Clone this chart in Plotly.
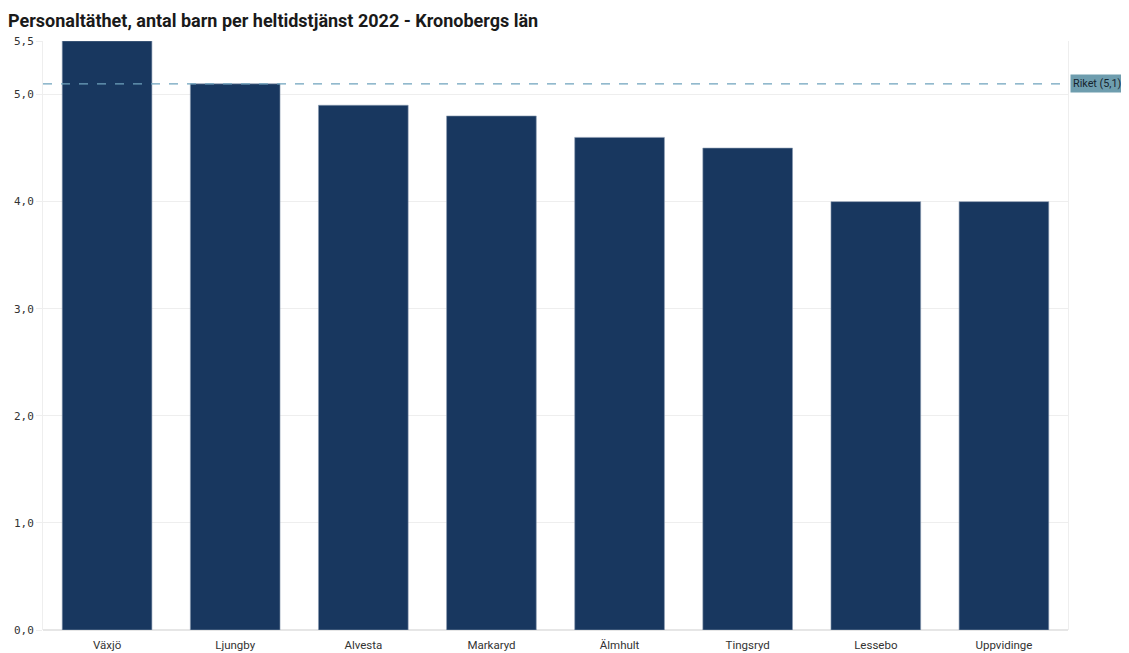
import plotly.graph_objects as go

kommuner = ["Växjö", "Ljungby", "Alvesta", "Markaryd", "Älmhult", "Tingsryd", "Lessebo", "Uppvidinge"]
barn_per_tjanst = [5.5, 5.1, 4.9, 4.8, 4.6, 4.5, 4.0, 4.0]
riket = 5.1
tick_vals = [0, 1, 2, 3, 4, 5, 5.5]
tick_text = ["0,0", "1,0", "2,0", "3,0", "4,0", "5,0", "5,5"]

fig = go.Figure()
fig.add_trace(go.Bar(
    x=kommuner, y=barn_per_tjanst,
    marker=dict(color="#18375f", line=dict(color="#8a9bb0", width=0.6)),
    hoverinfo="x+y"))

# Riket reference line
fig.add_shape(type="line", xref="paper", x0=0, x1=1, yref="y", y0=riket, y1=riket,
              line=dict(color="#6fa3bd", width=1.2, dash="dash"))
fig.add_annotation(xref="paper", x=1.0, y=riket, xanchor="left", yanchor="middle",
                   text="Riket (" + str(riket).replace(".", ",") + ")", showarrow=False,
                   bgcolor="#6e9dae", borderpad=2, xshift=2,
                   font=dict(family="Roboto", size=10.8, color="#15242e"))

# page body has an 8px margin, so the figure is sized/offset to compensate
fig.update_layout(
    width=1121, height=645,
    margin=dict(l=35, r=61, t=33, b=23, autoexpand=False),
    paper_bgcolor="white", plot_bgcolor="white",
    bargap=0.3,
    showlegend=False,
    title=dict(text="<b>Personaltäthet, antal barn per heltidstjänst 2022 - Kronobergs län</b>",
               x=0.0, xanchor="left", xref="container", y=0.981, yanchor="middle",
               pad=dict(l=0),
               font=dict(family="Roboto", size=18, color="#1a1a1a")),
    xaxis=dict(showgrid=False, showline=False, ticks="outside", ticklen=4, tickcolor="white",
               automargin=False,
               tickfont=dict(family="Roboto", size=11.5, color="#333333")),
    yaxis=dict(range=[0, 5.5], tickvals=tick_vals, ticktext=tick_text, automargin=False,
               showgrid=True, gridcolor="#eeeeee", gridwidth=1,
               zeroline=True, zerolinecolor="#e6e6e6",
               showline=True, linecolor="#eeeeee", mirror=True,
               ticks="outside", ticklen=6, tickcolor="#eeeeee",
               tickfont=dict(family="DejaVu Sans Mono", size=11, color="#333333")),
)

fig.write_html("out.html")
